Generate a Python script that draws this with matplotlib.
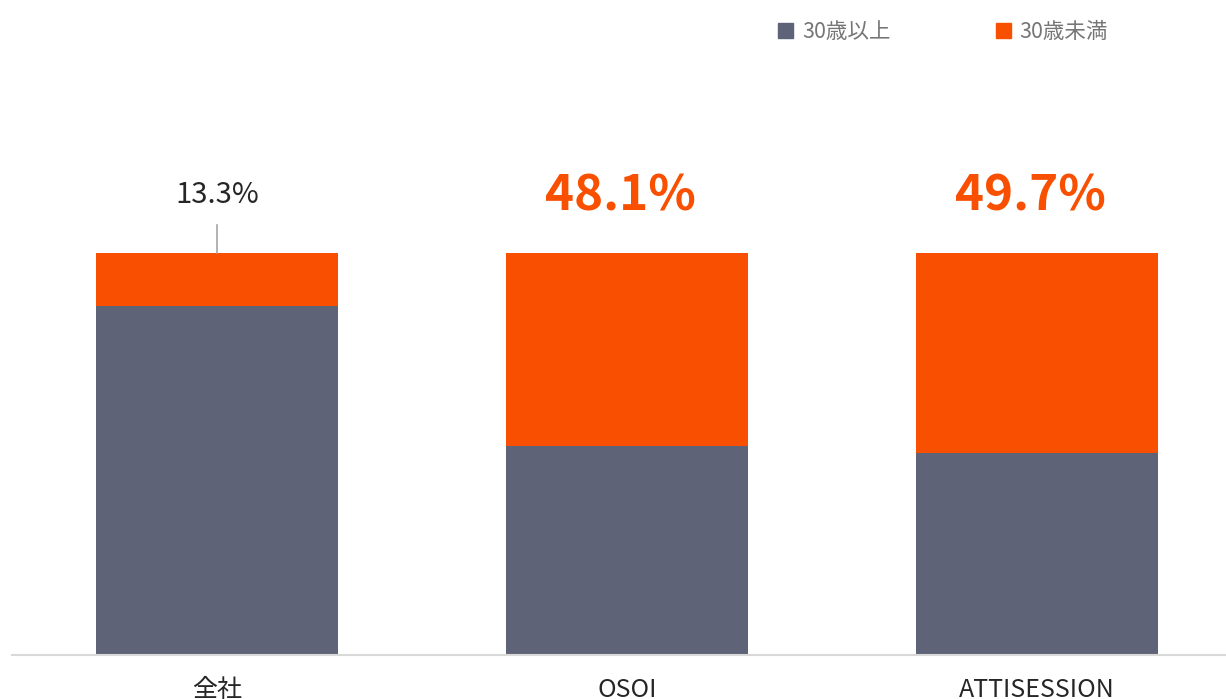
import numpy as np
import matplotlib.pyplot as plt
from matplotlib.patches import Patch

plt.rcParams['font.family'] = ['Noto Sans CJK JP', 'DejaVu Sans']

# データ
categories = ['全社', 'OSOI', 'ATTISESSION']
under30 = np.array([13.3, 48.1, 49.7])      # 30歳未満 (%)
over30 = 100 - under30                      # 30歳以上 (%)
labels = ['13.3%', '48.1%', '49.7%']

gray = '#5E6377'
orange = '#F84F00'

fig = plt.figure(figsize=(12.26, 6.99), dpi=100)
ax = fig.add_axes([12 / 1226, 44 / 699, 1 - 12 / 1226, 655 / 699])

x = np.arange(len(categories))
width = 0.588
ax.bar(x, over30, width, color=gray, label='30歳以上')
ax.bar(x, under30, width, bottom=over30, color=orange, label='30歳未満')

ax.set_xlim(-0.5, 2.461)
ax.set_ylim(0, 162.9)

# ラベル
label_y = 114.5
ax.text(x[0], label_y, labels[0], ha='center', va='center', fontsize=21, color='#262626')
ax.plot([x[0], x[0]], [100, 107], color='#A6A6A6', lw=1.2)
for i in (1, 2):
    ax.text(x[i] - 0.015, label_y - 0.3, labels[i], ha='center', va='center', fontsize=35.5,
            fontweight='bold', color=orange)

# 軸
for s in ['top', 'right', 'left']:
    ax.spines[s].set_visible(False)
ax.spines['bottom'].set_color('#D9D9D9')
ax.spines['bottom'].set_linewidth(1.5)
ax.set_yticks([])
ax.set_xticks(x)
ax.set_xticklabels(categories, fontsize=18, color='#262626')
ax.tick_params(axis='x', length=0, pad=16)

handles = [Patch(color=gray, label='30歳以上'), Patch(color=orange, label='30歳未満')]
fig.legend(handles=handles, ncol=2, loc='upper left', bbox_to_anchor=(759 / 1226, 1 - 2 / 699),
           frameon=False, fontsize=15.5, labelcolor='#767676', handlelength=0.7,
           handleheight=0.7, handletextpad=0.4, columnspacing=4.9)

fig.savefig('out.png', dpi=100)
